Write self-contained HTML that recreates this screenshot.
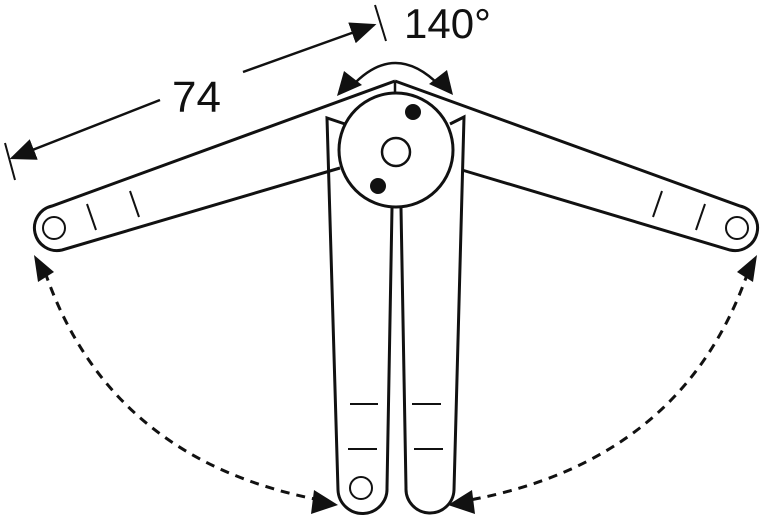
<!DOCTYPE html>
<html><head><style>body{margin:0;background:#fff}svg{display:block}</style></head><body>
<svg width="763" height="522" viewBox="0 0 763 522" xmlns="http://www.w3.org/2000/svg" font-family="Liberation Sans, sans-serif">
<defs>
<marker id="b" viewBox="0 0 10 10" refX="9" refY="5" markerWidth="26" markerHeight="22" markerUnits="userSpaceOnUse" orient="auto" preserveAspectRatio="none"><path d="M0,0 L10,5 L0,10z" fill="#111"/></marker>
</defs>
<g fill="none" stroke="#111" stroke-width="3">
<line x1="5" y1="143" x2="15" y2="180" stroke-width="2"/>
<line x1="375" y1="5" x2="386" y2="41" stroke-width="2"/>
<line x1="160" y1="100" x2="12" y2="158" stroke-width="2.5" marker-end="url(#b)"/>
<line x1="243" y1="72" x2="374" y2="25" stroke-width="2.5" marker-end="url(#b)"/>
<path d="M352,86 Q395,40 440,86" stroke-width="2.5"/>
<polygon points="337,96 344,71 362,85" fill="#111" stroke="none"/>
<polygon points="453,95 447,70 429,84" fill="#111" stroke="none"/>
<path d="M395,81 L52,206 A22,22 0 0 0 62,250 L340,168"/>
<path d="M395,81 L740,206 A22,22 0 0 1 730,250 L462,170"/>
<line x1="395" y1="81" x2="395" y2="96" stroke-width="2.5"/>
<circle cx="54" cy="228" r="11" stroke-width="2"/>
<circle cx="737" cy="228" r="11" stroke-width="2"/>
<line x1="87" y1="204" x2="96" y2="230" stroke-width="2"/>
<line x1="130" y1="191" x2="139" y2="217" stroke-width="2"/>
<line x1="705" y1="204" x2="696" y2="230" stroke-width="2"/>
<line x1="662" y1="191" x2="653" y2="217" stroke-width="2"/>
<path d="M345,124 L327,118 L338,490 A24,24 0 0 0 387,488 L392,208"/>
<path d="M450,124 L464,117 L454,490 A24,24 0 0 1 406,488 L401,208"/>
<line x1="350" y1="404" x2="378" y2="404" stroke-width="2"/>
<line x1="348" y1="449" x2="377" y2="449" stroke-width="2"/>
<line x1="412" y1="404" x2="441" y2="404" stroke-width="2"/>
<line x1="414" y1="449" x2="443" y2="449" stroke-width="2"/>
<circle cx="361" cy="488" r="11" stroke-width="2"/>
<circle cx="396" cy="150" r="57" fill="#fff"/>
<circle cx="396" cy="152" r="14" stroke-width="2.5"/>
<circle cx="413" cy="112" r="8" fill="#111" stroke="none"/>
<circle cx="378" cy="186" r="8" fill="#111" stroke="none"/>
<path d="M45,272 Q110,460 320,500" stroke-width="3" stroke-dasharray="9,7"/>
<polygon points="34,255 38,282 54,272" fill="#111" stroke="none"/>
<polygon points="338,505 314,490 311,514" fill="#111" stroke="none"/>
<path d="M748,272 Q683,460 470,500" stroke-width="3" stroke-dasharray="9,7"/>
<polygon points="757,255 753,282 737,272" fill="#111" stroke="none"/>
<polygon points="448,505 472,490 475,514" fill="#111" stroke="none"/>
</g>
<text x="172" y="112" font-size="44" fill="#111">74</text>
<text x="404" y="38" font-size="42" fill="#111">140°</text>
</svg>
</body></html>
